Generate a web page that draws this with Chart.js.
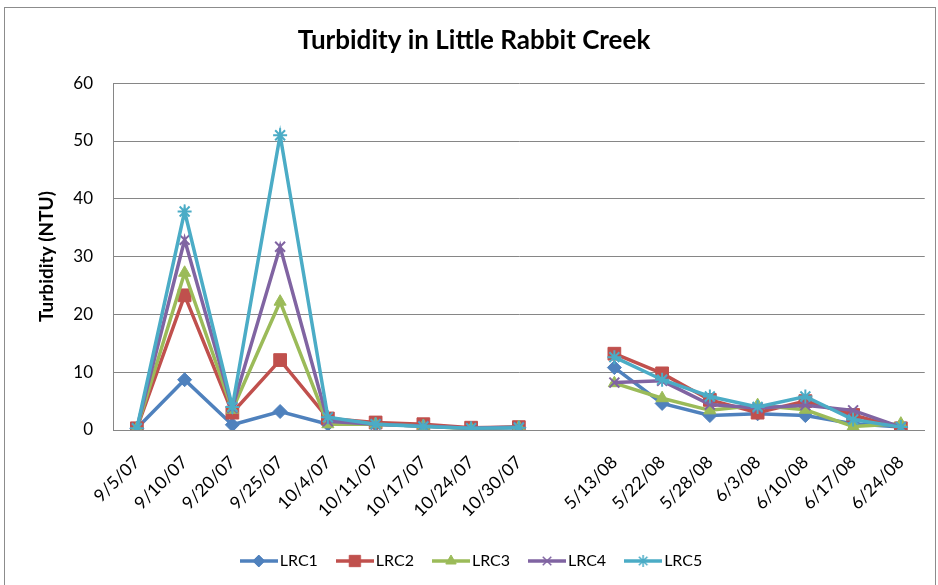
<!DOCTYPE html>
<html>
<head>
<meta charset="utf-8">
<script src="https://cdn.jsdelivr.net/npm/chart.js@4.4.0/dist/chart.umd.min.js"></script>
<style>
    html, body { margin: 0; padding: 0; background: #fff; overflow: hidden; }
    #wrap  { position: relative; width: 938px; height: 585px; }
    #frame { position: absolute; left: 4px; top: 7px; width: 930px; height: 620px; border: 1px solid #8c8c8c; }
    canvas { position: absolute; left: 0; top: 0; }
</style>
</head>
<body>
<div id="wrap">
    <div id="frame"></div>
    <canvas id="chart" width="938" height="585"></canvas>
</div>
<script>
// ---- data ----
const categories = ['9/5/07', '9/10/07', '9/20/07', '9/25/07', '10/4/07', '10/11/07', '10/17/07', '10/24/07', '10/30/07',
                    '', '5/13/08', '5/22/08', '5/28/08', '6/3/08', '6/10/08', '6/17/08', '6/24/08'];
const yTicks     = [0, 10, 20, 30, 40, 50, 60];

const lrc1 = [0.3,  8.7, 0.9,  3.2, 1.0, 1.0, 0.7, 0.3, 0.4, null, 10.8, 4.6, 2.5, 2.8, 2.5, 1.1, 0.5];
const lrc2 = [0.3, 23.3, 3.0, 12.1, 2.0, 1.3, 1.0, 0.4, 0.5, null, 13.2, 9.8, 5.2, 3.0, 5.0, 2.6, 0.3];
const lrc3 = [0.3, 27.2, 3.5, 22.2, 1.0, 1.0, 0.7, 0.2, 0.5, null,  8.1, 5.5, 3.4, 4.3, 3.5, 0.6, 1.1];
const lrc4 = [0.3, 32.9, 3.8, 31.7, 1.5, 1.0, 0.7, 0.3, 0.5, null,  8.2, 8.5, 4.4, 3.8, 4.3, 3.4, 0.5];
const lrc5 = [0.3, 37.8, 4.0, 51.0, 2.2, 1.0, 0.6, 0.3, 0.4, null, 12.6, 8.7, 5.8, 4.0, 5.8, 1.8, 0.5];

const seriesNames  = ['LRC1', 'LRC2', 'LRC3', 'LRC4', 'LRC5'];
const seriesValues = [lrc1, lrc2, lrc3, lrc4, lrc5];

// ---- styles ----
const colors  = ['#4F81BD', '#C0504D', '#9BBB59', '#8064A2', '#4BACC6'];
const markers = ['rectRot', 'rect', 'triangle', 'crossRot', 'star'];
const radii   = [7, 9, 7, 7, 7];
const FONT    = 'Lato, Carlito, Calibri, sans-serif';

// 凡例用アイコン（線＋マーカー）
const ICON_W = 38;
function makeIcon(i) {
    const cv = document.createElement('canvas');
    cv.width = ICON_W; cv.height = 16;
    const g = cv.getContext('2d');
    g.strokeStyle = colors[i];
    g.lineWidth = 3.5;
    g.beginPath(); g.moveTo(0, 8); g.lineTo(ICON_W, 8); g.stroke();
    g.fillStyle = colors[i];
    g.lineWidth = (markers[i] === 'crossRot' || markers[i] === 'star') ? 1.5 : 1;
    Chart.helpers.drawPoint(g, { pointStyle: markers[i], radius: radii[i] - 1, rotation: 0, borderWidth: g.lineWidth }, ICON_W / 2, 8);
    return cv;
}
const legendIcons = seriesNames.map((_, i) => makeIcon(i));

const datasets = seriesNames.map((name, i) => ({
    label: name,
    data: seriesValues[i],
    borderColor: colors[i],
    backgroundColor: colors[i],
    borderWidth: 3.5,
    pointStyle: markers[i],
    pointRadius: radii[i],
    pointBorderWidth: (markers[i] === 'crossRot' || markers[i] === 'star') ? 2 : 1,
    pointBorderColor: colors[i],
    pointBackgroundColor: colors[i],
    tension: 0,
    spanGaps: false,
    order: seriesNames.length - i,
}));

const PAD_BOTTOM = 6;
const PLOT_BOTTOM = 430;

new Chart(document.getElementById('chart'), {
    type: 'line',
    data: { labels: categories, datasets },
    options: {
        responsive: false,
        animation: false,
        layout: { padding: { left: 20, right: 10, top: 0, bottom: PAD_BOTTOM } },
        plugins: {
            title: {
                display: true,
                text: 'Turbidity in Little Rabbit Creek',
                color: '#000',
                font: { family: FONT, size: 26, weight: 'bold' },
                padding: { top: 25, bottom: 27 },
            },
            legend: {
                position: 'bottom',
                labels: {
                    usePointStyle: true,
                    pointStyleWidth: 26,
                    padding: 24,
                    color: '#000',
                    font: { family: FONT, size: 16 },
                    sort: (a, b) => a.datasetIndex - b.datasetIndex,
                    generateLabels(chart) {
                        const items = Chart.defaults.plugins.legend.labels.generateLabels(chart);
                        items.forEach(it => { it.pointStyle = legendIcons[it.datasetIndex]; });
                        return items;
                    },
                },
            },
            tooltip: { enabled: false },
        },
        scales: {
            x: {
                offset: true,
                grid: { display: false, drawTicks: false },
                border: { display: true, color: '#868686', width: 1 },
                ticks: {
                    autoSkip: false, maxRotation: 45, minRotation: 45, padding: 22,
                    color: '#000', font: { family: FONT, size: 17.5 },
                },
                afterFit(scale) {
                    const lg = scale.chart.legend;
                    const lh = lg ? lg.height : 40;
                    scale.height = scale.chart.height - PLOT_BOTTOM - lh - PAD_BOTTOM;
                },
            },
            y: {
                min: 0, max: 60,
                afterBuildTicks(scale) { scale.ticks = yTicks.map(v => ({ value: v })); },
                grid: { color: '#868686', lineWidth: 1, drawTicks: false },
                border: { display: true, color: '#868686', width: 1 },
                ticks: { padding: 20, color: '#000', font: { family: FONT, size: 17 } },
                title: {
                    display: true,
                    text: 'Turbidity (NTU)',
                    color: '#000',
                    font: { family: FONT, size: 19, weight: 'bold' },
                    padding: { top: 15, bottom: 6 },
                },
                afterFit(scale) { scale.width = 93; },
            },
        },
    },
});
</script>
</body>
</html>
